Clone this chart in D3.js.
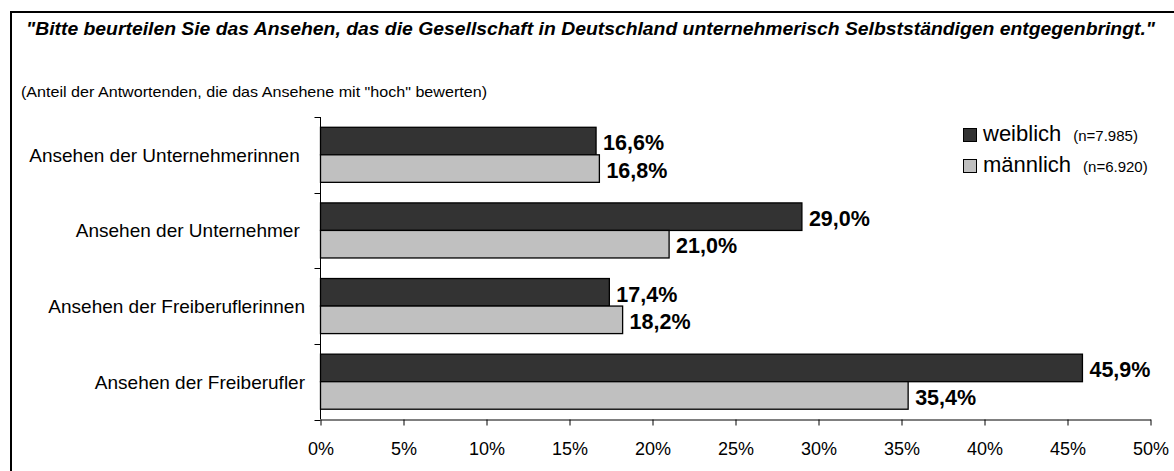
<!DOCTYPE html>
<html>
<head>
<meta charset="utf-8">
<script src="https://cdn.jsdelivr.net/npm/d3@7"></script>
<style>
  html, body { margin: 0; padding: 0; background: #fff; }
  svg { display: block; font-family: Arial, "Liberation Sans", sans-serif; }
</style>
</head>
<body>
<svg id="chart" width="1174" height="471"></svg>
<script>
const categories = [
  "Ansehen der Unternehmerinnen\u00a0",
  "Ansehen der Unternehmer\u00a0",
  "Ansehen der Freiberuflerinnen",
  "Ansehen der Freiberufler"
];
const weiblich = [16.6, 29.0, 17.4, 45.9];
const maennlich = [16.8, 21.0, 18.2, 35.4];
const seriesNames = ["weiblich", "männlich"];
const seriesN = ["(n=7.985)", "(n=6.920)"];
const xTicks = [0, 5, 10, 15, 20, 25, 30, 35, 40, 45, 50];
const titleText = "\"Bitte beurteilen Sie das Ansehen, das die Gesellschaft in Deutschland unternehmerisch Selbstständigen entgegenbringt.\"";
const subtitleText = "(Anteil der Antwortenden, die das Ansehene mit \"hoch\" bewerten)";

const colors = ["#333333", "#c0c0c0"];
const svg = d3.select("#chart");

// outer frame
svg.append("rect")
  .attr("x", 11).attr("y", 12).attr("width", 1300).attr("height", 600)
  .attr("fill", "none").attr("stroke", "#000").attr("stroke-width", 2);

svg.append("text")
  .attr("x", 26).attr("y", 35)
  .attr("font-size", 17.5).attr("font-weight", "bold").attr("font-style", "italic")
  .attr("textLength", 1129).attr("lengthAdjust", "spacingAndGlyphs")
  .attr("fill", "#000")
  .text(titleText);

svg.append("text")
  .attr("x", 21).attr("y", 97)
  .attr("font-size", 14.5).attr("fill", "#000")
  .attr("textLength", 466).attr("lengthAdjust", "spacingAndGlyphs")
  .text(subtitleText);

const plotLeft = 320.5, plotRight = 1150.5, plotTop = 117, plotBottom = 419.5;

const x = d3.scaleLinear().domain([0, 50]).range([plotLeft, plotRight]);
const y = d3.scaleBand().domain(categories).range([plotTop, plotBottom])
  .paddingInner(0.272).paddingOuter(0.136);
const ySub = d3.scaleBand().domain(seriesNames).range([0, y.bandwidth()]);

const data = categories.map((c, i) => ({ cat: c, vals: [weiblich[i], maennlich[i]] }));

const groups = svg.append("g").selectAll("g")
  .data(data).join("g")
  .attr("transform", d => `translate(0,${y(d.cat)})`);

groups.selectAll("rect")
  .data(d => d.vals.map((v, j) => ({ v, s: seriesNames[j], j })))
  .join("rect")
  .attr("x", x(0))
  .attr("y", d => ySub(d.s))
  .attr("width", d => x(d.v) - x(0))
  .attr("height", ySub.bandwidth())
  .attr("fill", d => colors[d.j])
  .attr("stroke", "#000")
  .attr("stroke-width", 1.3);

groups.selectAll("text.val")
  .data(d => d.vals.map((v, j) => ({ v, s: seriesNames[j], j })))
  .join("text")
  .attr("class", "val")
  .attr("x", d => x(d.v) + 7)
  .attr("y", d => ySub(d.s) + ySub.bandwidth() / 2)
  .attr("dy", "0.43em")
  .attr("font-size", 21.5).attr("font-weight", "bold").attr("fill", "#000")
  .text(d => d3.format(".1f")(d.v).replace(".", ",") + "%");

// x axis
const xAxis = d3.axisBottom(x).tickValues(xTicks).tickSize(6).tickSizeOuter(0)
  .tickFormat(d => d + "%");
const gx = svg.append("g").attr("transform", `translate(0,${plotBottom})`).call(xAxis);
gx.select(".domain").attr("stroke", "#000");
gx.selectAll(".tick line").attr("stroke", "#000");
gx.selectAll(".tick text").attr("font-size", 18).attr("fill", "#000")
  .attr("font-family", "Arial, 'Liberation Sans', sans-serif").attr("dy", "1.47em");

// y axis: line + ticks at category boundaries
const yAxis = svg.append("g");
yAxis.append("line")
  .attr("x1", plotLeft).attr("x2", plotLeft)
  .attr("y1", plotTop).attr("y2", plotBottom)
  .attr("stroke", "#000");
const boundaries = categories.map(c => y(c) - y.step() * y.paddingInner() / 2).concat([plotBottom]);
yAxis.selectAll("line.tk").data(boundaries).join("line")
  .attr("class", "tk")
  .attr("x1", plotLeft - 6).attr("x2", plotLeft)
  .attr("y1", d => Math.round(d) + 0.5).attr("y2", d => Math.round(d) + 0.5)
  .attr("stroke", "#000");
yAxis.selectAll("text").data(categories).join("text")
  .attr("x", 305)
  .attr("y", d => y(d) + y.bandwidth() / 2)
  .attr("dy", "0.36em")
  .attr("text-anchor", "end")
  .attr("font-size", 19).attr("fill", "#000")
  .style("white-space", "pre")
  .text(d => d);

// legend
const legend = svg.append("g");
const legRows = [135, 166];
seriesNames.forEach((s, i) => {
  legend.append("rect")
    .attr("x", 963.5).attr("y", legRows[i] - 6.5)
    .attr("width", 13).attr("height", 13)
    .attr("fill", colors[i]).attr("stroke", "#000").attr("stroke-width", 1);
  const t = legend.append("text")
    .attr("x", 983).attr("y", legRows[i]).attr("dy", "0.36em")
    .attr("fill", "#000");
  t.append("tspan").attr("font-size", 22).text(s);
  t.append("tspan").attr("font-size", 15).attr("dx", 12).text(seriesN[i]);
});
</script>
</body>
</html>
